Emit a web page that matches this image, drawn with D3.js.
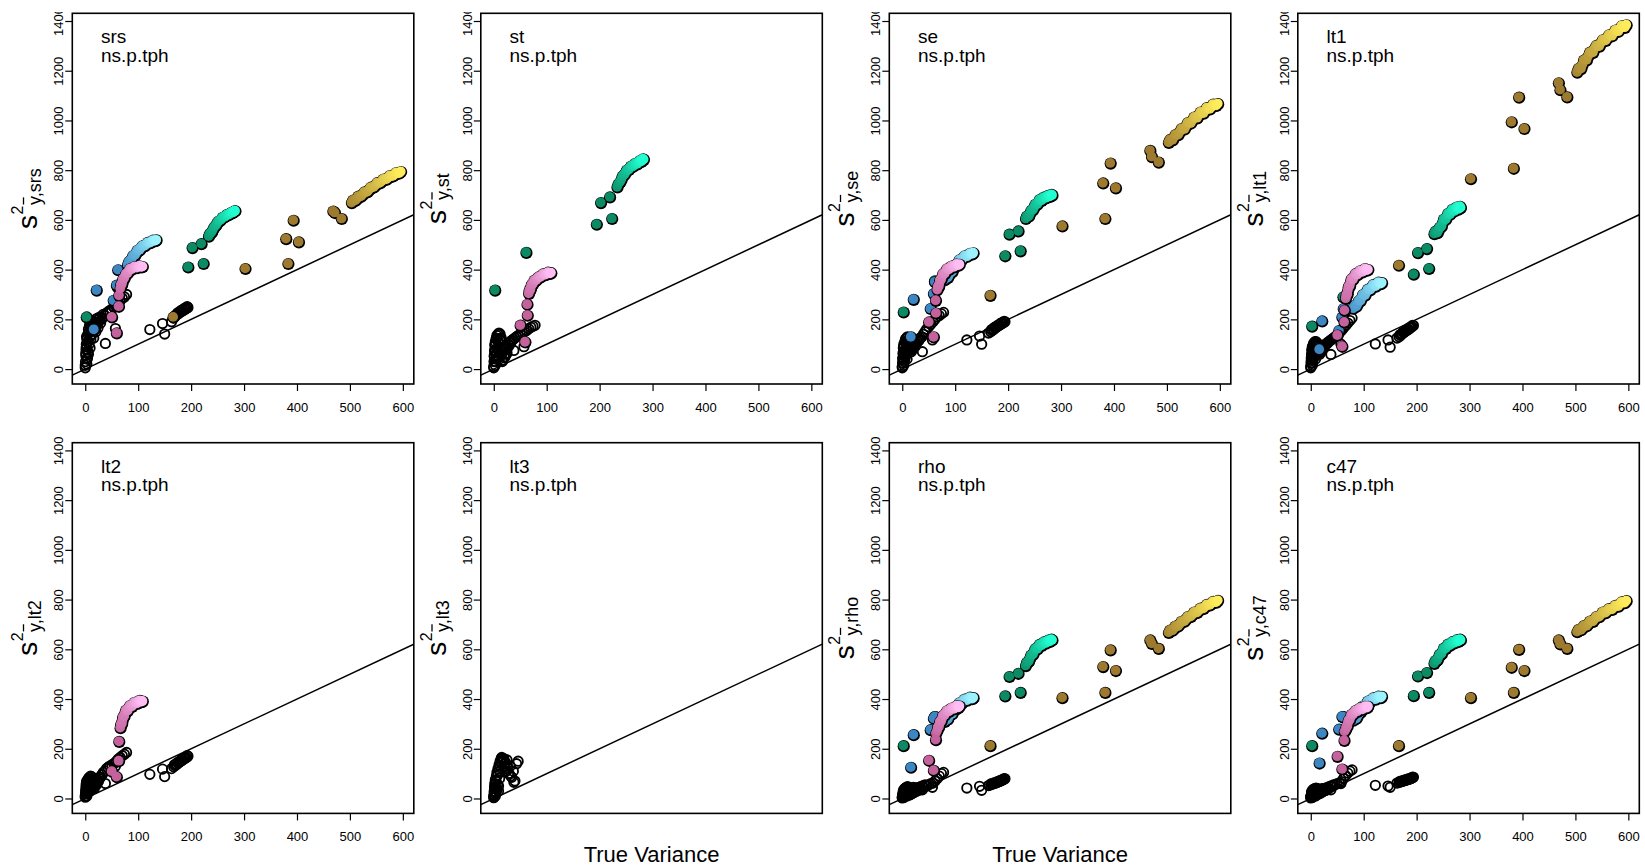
<!DOCTYPE html>
<html>
<head>
<meta charset="utf-8">
<script src="https://cdn.jsdelivr.net/npm/d3@7"></script>
<style>
  body { margin: 0; background: #fff; }
  svg { display: block; }
  text { font-family: "Liberation Sans", Arial, Helvetica, sans-serif; fill: #000; }
</style>
</head>
<body>
<svg id="chart" width="1645" height="867"></svg>
<script>
// ---------------------------------------------------------------
// Estimated variance of the mean vs. true variance, by estimator
// ---------------------------------------------------------------
const estimators = ["srs", "st", "se", "lt1", "lt2", "lt3", "rho", "c47"];
const designLabel = "ns.p.tph";
const xTicks = [0, 100, 200, 300, 400, 500, 600];
const yTicks = [0, 200, 400, 600, 800, 1000, 1200, 1400];
const xTitle = "True Variance";

// Point groups (drawn in this order)
const groups = ["open", "green", "blue", "pink", "brown"];

// True variance of each point, by group (shared by all estimators)
const trueVarOpen = [
  0, 0.5, 1, 1.5, 2, 3, 3, 4, 5, 5, 6, 7, 8, 9, 10, 11, 12, 14,
  15, 17, 19, 21, 23, 25, 28, 31, 34, 37, 40, 43, 46, 50, 54, 58, 62, 66, 70, 74, 78,
  38, 57, 122, 146, 150, 163,
  167, 170, 173, 176, 179, 182, 185, 188, 191, 194,
  0, 1, 2, 2.5, 3.5, 4.5, 6, 7.5, 9, 10.5, 12, 13, 16, 18, 20, 22, 24, 26, 29, 32,
  168.5, 171.5, 174.5, 177.5, 180.5, 183.5, 186.5, 189.5, 192.5
];
const trueVarGreen = [2, 61, 194, 202, 219, 223, 233, 237, 241, 245, 249, 253, 257, 261, 265, 269, 273, 277, 280, 283,
  235, 239, 243, 247, 251, 255, 259, 263, 267, 271, 275, 278.5, 281.5];
const trueVarBlue = [16, 21, 53, 59, 61.5, 80, 84, 88, 92, 96, 100, 105, 110, 115, 120, 125, 130, 134,
  82, 86, 90, 94, 98, 102.5, 107.5, 112.5, 117.5, 122.5, 127.5, 132];
const trueVarPink = [50, 59, 63, 63.5, 66, 68, 70, 72, 75, 78, 82, 86, 90, 95, 100, 104, 108,
  67, 69, 71, 73.5, 76.5, 80, 84, 88, 92.5, 97.5, 102, 106];
const trueVarBrown = [166, 302, 379, 383, 393, 403, 468, 471, 484, 503, 508, 513, 518, 524, 530, 536, 542, 548, 554, 560, 566, 572, 578, 584, 590, 596,
  505.5, 510.5, 515.5, 521, 527, 533, 539, 545, 551, 557, 563, 569, 575, 581, 587, 593];

const N = (k) => Array(k).fill(null);

// Estimated variance, one list per group in the order of `groups`
const estSrs = [
  [5, 30, 55, 80, 100, 20, 120, 45, 140, 70, 160, 100, 175, 130, 185, 155, 195, 175,
   190, 160, 200, 175, 205, 190, 210, 200, 220, 215, 225, 230, 235, 240, 250, 255, 265, 275, 285, 290, 300,
   103, 163, 159, 183, 141, 190,
   205, 212, 218, 222, 228, 232, 236, 240, 244, 248,
   15, 65, 90, 130, 40, 110, 60, 150, 85, 120, 165, 140, 125, 180, 150, 185, 165, 200, 185, 205,
   213, 218, 226, 229, 235, 238, 243, 246, 251],
  [210, 330, 411, 489, 505, 425, 535, 548, 562, 575, 588, 597, 605, 612, 617, 621, 626, 630, 633, 637,
   545, 553, 571, 580, 595, 599, 611, 613, 622, 622, 630, 630, 637],
  [160, 318, 277, 338, 400, 420, 435, 447, 458, 468, 478, 488, 496, 503, 509, 513, 517, 520,
   432, 438, 457, 460, 478, 480, 496, 497, 510, 509, 519, 517],
  [210, 146, 253, 297, 325, 340, 352, 363, 375, 385, 396, 403, 407, 410, 412, 413, 413,
   338, 342, 362, 366, 384, 387, 404, 402, 413, 408, 416, 411],
  [210, 405, 525, 425, 599, 512, 636, 630, 606, 670, 678, 686, 694, 703, 712, 722, 731, 740, 748, 756, 763, 770, 776, 782, 788, 795,
   680, 680, 696, 696, 713, 714, 732, 733, 750, 750, 765, 764, 779, 777, 791, 789]
];
const estSt = [
  [5, 30, 55, 75, 95, 15, 110, 40, 125, 65, 135, 85, 140, 50, 145, 100, 140, 125,
   60, 35, 90, 50, 80, 65, 100, 110, 115, 120, 125, 130, 135, 140, 145, 150, 155, 162, 168, 172, 176,
   75, 90, null, null, null, null,
   ...N(10),
   10, 50, 70, 100, 30, 120, 55, 80, 110, 40, 120, 75, 30, 75, 45, 90, 60, 85, 95, 105,
   ...N(9)],
  [318, 470, 583, 670, 693, 606, 733, 750, 765, 780, 792, 802, 810, 816, 821, 826, 831, 836, 840, 844,
   745, 755, 777, 784, 801, 803, 817, 816, 828, 826, 838, 836, 846],
  N(30),
  [177, 110, 261, 217, 305, 318, 330, 340, 350, 357, 364, 370, 376, 380, 384, 386, 388,
   318, 320, 340, 343, 358, 358, 371, 371, 383, 380, 390, 385],
  N(42)
];
const estSe = [
  [5, 25, 45, 65, 85, 15, 100, 35, 110, 55, 120, 70, 125, 40, 130, 90, 120, 100,
   80, 70, 95, 85, 100, 95, 110, 115, 125, 130, 140, 150, 160, 170, 180, 190, 200, 210, 215, 222, 228,
   70, 117, 117, 133, 100, 145,
   150, 155, 160, 165, 170, 174, 178, 182, 186, 190,
   10, 40, 60, 90, 30, 75, 50, 105, 80, 95, 115, 110, 75, 90, 80, 100, 90, 105, 110, 118,
   158, 162, 168, 171, 176, 179, 185, 187, 192],
  [230, 355, 456, 543, 556, 476, 606, 614, 626, 640, 652, 664, 673, 680, 685, 690, 693, 696, 698, 700,
   616, 616, 638, 642, 663, 664, 682, 679, 692, 689, 699, 695, 703],
  [130, 281, 244, 304, 351, 360, 368, 378, 390, 402, 415, 428, 440, 449, 455, 460, 464, 468,
   370, 369, 390, 392, 414, 417, 440, 441, 456, 454, 466, 464],
  [190, 130, 277, 226, 320, 332, 345, 358, 372, 383, 394, 402, 408, 413, 417, 420, 422,
   332, 334, 358, 361, 384, 384, 404, 401, 415, 411, 423, 418],
  [297, 576, 749, 606, 829, 729, 880, 855, 833, 912, 922, 932, 942, 954, 966, 978, 990, 1001, 1012, 1022, 1031, 1040, 1048, 1055, 1062, 1068,
   924, 922, 944, 943, 968, 966, 992, 990, 1014, 1011, 1034, 1030, 1052, 1047, 1066, 1061]
];
const estLt1 = [
  [5, 25, 45, 60, 75, 15, 90, 35, 100, 50, 105, 65, 110, 40, 110, 80, 100, 90,
   70, 60, 85, 75, 95, 90, 100, 105, 110, 115, 120, 125, 130, 135, 145, 155, 165, 175, 185, 195, 205,
   59, 100, 101, 117, 88, 125,
   130, 136, 142, 147, 152, 156, 160, 165, 170, 175,
   10, 35, 55, 80, 25, 70, 45, 95, 60, 90, 105, 95, 65, 80, 70, 90, 85, 95, 100, 105,
   138, 141, 149, 151, 158, 160, 167, 169, 176],
  [173, 291, 382, 469, 485, 405, 545, 550, 558, 572, 590, 603, 614, 624, 632, 638, 643, 646, 648, 650,
   555, 549, 571, 575, 604, 603, 627, 623, 643, 636, 652, 644, 655],
  [80, 194, 155, 210, 244, 245, 253, 262, 275, 288, 298, 310, 320, 329, 336, 341, 345, 348,
   256, 253, 275, 276, 300, 298, 322, 320, 340, 334, 350, 344],
  [137, 92, 190, 237, 285, 300, 318, 333, 350, 362, 373, 381, 387, 393, 398, 400, 401,
   298, 303, 332, 336, 363, 362, 384, 380, 396, 391, 405, 398],
  [418, 766, 995, 808, 1094, 968, 1152, 1124, 1095, 1195, 1210, 1225, 1245, 1260, 1275, 1290, 1300, 1312, 1323, 1333, 1343, 1352, 1361, 1370, 1377, 1385,
   1210, 1209, 1243, 1244, 1275, 1274, 1302, 1299, 1325, 1322, 1345, 1341, 1364, 1359, 1381, 1375]
];
const estLt2 = [
  [5, 20, 35, 50, 60, 10, 70, 25, 75, 40, 80, 55, 85, 30, 90, 65, 88, 75,
   50, 40, 65, 55, 75, 70, 85, 95, 105, 110, 120, 125, 130, 135, 140, 148, 158, 165, 172, 178, 185,
   60, 130, 97, 118, 88, 120,
   128, 133, 138, 143, 148, 152, 157, 161, 165, 170,
   10, 30, 45, 65, 20, 55, 35, 70, 50, 70, 80, 75, 45, 60, 55, 70, 65, 80, 85, 95,
   136, 138, 145, 147, 154, 156, 163, 165, 172],
  N(33),
  N(30),
  [110, 88, 152, 230, 285, 300, 315, 330, 345, 355, 365, 372, 378, 385, 389, 391, 392,
   298, 302, 328, 332, 356, 354, 374, 371, 387, 383, 395, 390],
  N(42)
];
const estLt3 = [
  [3, 15, 30, 45, 60, 10, 75, 25, 90, 40, 105, 55, 120, 30, 135, 80, 150, 160,
   165, 155, 160, 140, 120, 155, 100, 130, 85, 110, 70, 140, 150, null, null, null, null, null, null, null, null,
   65, null, null, null, null, null,
   ...N(10),
   8, 25, 40, 55, 20, 70, 35, 95, 50, 110, 130, 145, 160, 150, 130, 145, 110, 125, 100, 90,
   ...N(9)],
  N(33),
  N(30),
  N(29),
  N(42)
];
const estRho = [
  [2, 8, 15, 22, 30, 4, 35, 12, 40, 18, 42, 25, 45, 10, 48, 30, 45, 35,
   15, 30, 20, 45, 25, 40, 30, 45, 35, 50, 45, 55, 50, 55, 60, 62, 70, 80, 90, 100, 105,
   35, 45, 42, 49, 33, 52,
   55, 58, 60, 62, 65, 67, 70, 73, 76, 79,
   5, 12, 20, 28, 8, 25, 15, 32, 20, 38, 30, 40, 20, 35, 25, 38, 30, 42, 35, 45,
   60, 59, 64, 63, 69, 68, 74, 74, 80],
  [213, 330, 413, 491, 504, 427, 535, 550, 565, 578, 592, 603, 611, 618, 623, 627, 630, 633, 636, 638,
   548, 553, 577, 581, 603, 602, 620, 616, 630, 625, 637, 632, 641],
  [126, 257, 277, 323, 330, 310, 318, 330, 340, 350, 360, 372, 385, 393, 398, 402, 404, 406,
   320, 320, 341, 341, 361, 362, 385, 384, 400, 396, 408, 402],
  [154, 114, 237, 263, 275, 288, 298, 310, 322, 335, 345, 352, 358, 363, 367, 370, 372,
   287, 289, 310, 312, 334, 336, 353, 351, 364, 361, 373, 367],
  [213, 406, 531, 427, 598, 515, 638, 624, 604, 668, 676, 684, 692, 702, 712, 722, 731, 740, 748, 756, 764, 772, 779, 785, 791, 797,
   678, 677, 694, 694, 713, 714, 732, 733, 750, 749, 766, 765, 781, 779, 793, 790]
];
const estC47 = [
  [2, 8, 15, 22, 28, 4, 32, 12, 36, 18, 38, 25, 40, 10, 42, 30, 40, 35,
   18, 30, 22, 40, 28, 38, 32, 45, 40, 50, 48, 55, 55, 60, 62, 68, 80, 92, 102, 110, 115,
   35, 60, 53, 50, 45, 62,
   65, 67, 69, 71, 73, 75, 77, 79, 82, 85,
   5, 12, 20, 26, 8, 25, 15, 30, 20, 35, 28, 38, 22, 35, 25, 38, 30, 40, 35, 42,
   69, 68, 73, 72, 77, 76, 81, 80, 86],
  [213, 330, 414, 493, 507, 427, 544, 555, 568, 580, 594, 604, 612, 619, 624, 628, 631, 634, 636, 638,
   555, 558, 580, 583, 605, 604, 621, 617, 631, 626, 638, 632, 641],
  [143, 263, 279, 330, 328, 315, 322, 332, 345, 358, 372, 382, 392, 398, 403, 406, 409, 411,
   324, 323, 345, 347, 372, 373, 392, 391, 405, 400, 412, 406],
  [170, 119, 234, 270, 278, 290, 303, 315, 327, 338, 347, 353, 358, 362, 366, 369, 371,
   290, 292, 315, 317, 339, 339, 354, 351, 364, 359, 371, 366],
  [213, 406, 528, 427, 600, 515, 638, 622, 604, 671, 678, 686, 694, 703, 712, 722, 731, 740, 748, 755, 762, 768, 775, 782, 789, 796,
   681, 679, 696, 695, 714, 713, 732, 732, 750, 748, 764, 761, 777, 774, 791, 788]
];

const estimates = [estSrs, estSt, estSe, estLt1, estLt2, estLt3, estRho, estC47];
const trueVar = [trueVarOpen, trueVarGreen, trueVarBlue, trueVarPink, trueVarBrown];

// ---------------------------------------------------------------
// Layout and styling
// ---------------------------------------------------------------
const plotW = 341.5, plotH = 370.7;
const colLeft = [72.3, 480.8, 889.3, 1297.8];
const rowTop = [13.3, 442.7];
const xDomain = [-24.5, 620.7];
const yDomain = [-60, 1431];

// colour ramp per group: dark tone for the sparse points, ramping to a light
// tone along the dense run that starts at `rampFrom`
const groupStyle = {
  open:  null,
  green: { dark: "#0b8a64", light: "#22ffd0", rampFrom: 233 },
  blue:  { dark: "#3c86c4", light: "#9cf3ff", rampFrom: 80 },
  pink:  { dark: "#c4629d", light: "#ffbdf3", rampFrom: 66 },
  brown: { dark: "#9d7a2f", light: "#ffec5a", rampFrom: 503 }
};

const svg = d3.select("#chart");
const defs = svg.append("defs");

// the figure region of the top row starts a little below the page edge
defs.append("clipPath").attr("id", "clip-row0")
  .append("rect").attr("x", 0).attr("y", 12).attr("width", 1645).attr("height", 420);
defs.append("clipPath").attr("id", "clip-plot")
  .append("rect").attr("x", 0).attr("y", 0).attr("width", plotW).attr("height", plotH);

const rowGroups = [
  svg.append("g").attr("clip-path", "url(#clip-row0)"),
  svg.append("g")
];

// s^2 with subscript  y-bar , <estimator>  — rotated, centred on the panel
function yAxisTitle(g, est, cy) {
  const outer = g.append("g").attr("transform", `translate(-35.3,${cy}) rotate(-90)`);
  const inner = outer.append("g");
  const s = inner.append("text").attr("x", 0).attr("y", 0).attr("font-size", 28).text("s");
  const sw = s.node().getComputedTextLength();
  const sup = inner.append("text").attr("x", sw + 0.5).attr("y", -14).attr("font-size", 16).text("2");
  const w2 = sup.node().getComputedTextLength();
  const subX = sw + w2 + 1;
  const sub = inner.append("text").attr("x", subX).attr("y", 3.5).attr("font-size", 18);
  const yT = sub.append("tspan").text("y");
  sub.append("tspan").text("," + est);
  const yw = yT.node().getComputedTextLength();
  inner.append("line")
    .attr("x1", subX + 0.5).attr("x2", subX + yw)
    .attr("y1", -13.5).attr("y2", -13.5)
    .attr("stroke", "#000").attr("stroke-width", 1.3);
  const total = subX + sub.node().getComputedTextLength();
  inner.attr("transform", `translate(${-total / 2},0)`);
}

estimators.forEach((est, i) => {
  const row = Math.floor(i / 4), col = i % 4;
  const left = colLeft[col], top = rowTop[row];
  const x = d3.scaleLinear().domain(xDomain).range([0, plotW]);
  const y = d3.scaleLinear().domain(yDomain).range([plotH, 0]);

  const g = rowGroups[row].append("g").attr("transform", `translate(${left},${top})`);
  const plot = g.append("g").attr("clip-path", "url(#clip-plot)");

  // points
  groups.forEach((grp, k) => {
    const xs = trueVar[k];
    const ys = estimates[i][k];
    const pts = xs.map((v, j) => ({ tv: v, est: ys[j] }))
      .filter(d => d.est != null)
      .sort((a, b) => a.tv - b.tv);
    const st = groupStyle[grp];
    if (!st) {
      plot.append("g").selectAll("circle").data(pts).join("circle")
        .attr("cx", d => x(d.tv)).attr("cy", d => y(d.est)).attr("r", 4.7)
        .attr("fill", "none").attr("stroke", "#000").attr("stroke-width", 1.85);
    } else {
      const tScale = d3.scaleLinear().domain([st.rampFrom, d3.max(xs)]).range([0.12, 1]).clamp(true);
      const ramp = d3.interpolateRgb(st.dark, st.light);
      // dark rim, heavier toward the lower right
      plot.append("g").selectAll("circle").data(pts).join("circle")
        .attr("cx", d => x(d.tv) + 0.4).attr("cy", d => y(d.est) + 0.6).attr("r", 6.1)
        .attr("fill", "#000");
      plot.append("g").selectAll("circle").data(pts).join("circle")
        .attr("cx", d => x(d.tv)).attr("cy", d => y(d.est)).attr("r", 4.9)
        .attr("fill", d => ramp(d.tv < st.rampFrom ? 0 : tScale(d.tv)));
    }
  });

  // 1:1 reference line
  plot.append("line")
    .attr("x1", x(xDomain[0])).attr("y1", y(xDomain[0]))
    .attr("x2", x(xDomain[1])).attr("y2", y(xDomain[1]))
    .attr("stroke", "#000").attr("stroke-width", 1.5);

  // box
  g.append("rect").attr("width", plotW).attr("height", plotH)
    .attr("fill", "none").attr("stroke", "#000").attr("stroke-width", 1.6);

  // y axis
  const ya = g.append("g").call(d3.axisLeft(y).tickValues(yTicks).tickSize(7).tickFormat(d3.format("d")));
  ya.select(".domain").remove();
  ya.selectAll(".tick line").attr("stroke-width", 1.2);
  ya.selectAll(".tick text")
    .attr("x", null).attr("dy", null)
    .attr("text-anchor", "middle")
    .attr("font-family", null).attr("font-size", 13)
    .attr("transform", "translate(-9,0) rotate(-90)");

  // x axis (only where the panel carries tick labels)
  const showX = !(est === "lt3" || est === "rho");
  if (showX) {
    const xa = g.append("g").attr("transform", `translate(0,${plotH})`)
      .call(d3.axisBottom(x).tickValues(xTicks).tickSize(7).tickFormat(d3.format("d")));
    xa.select(".domain").remove();
    xa.selectAll(".tick line").attr("stroke-width", 1.2);
    xa.selectAll(".tick text").attr("dy", null).attr("y", 28)
      .attr("font-family", null).attr("font-size", 13);
  } else {
    g.append("text").attr("x", plotW / 2).attr("y", 862 - top)
      .attr("text-anchor", "middle").attr("font-size", 22).text(xTitle);
  }

  // panel annotation
  g.append("text").attr("x", 28.7).attr("y", 30).attr("font-size", 19).text(est);
  g.append("text").attr("x", 28.7).attr("y", 48.4).attr("font-size", 19).text(designLabel);

  // y axis title
  yAxisTitle(g, est, plotH / 2);
});
</script>
</body>
</html>
